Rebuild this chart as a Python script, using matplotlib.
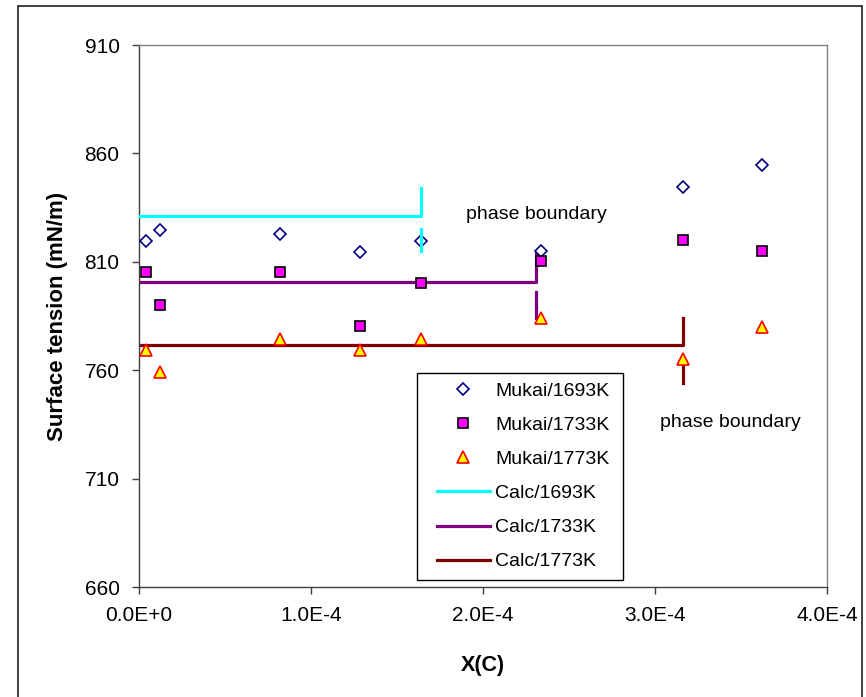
import matplotlib
matplotlib.use('Agg')
import numpy as np
import matplotlib.pyplot as plt
from matplotlib.patches import Rectangle
from matplotlib.ticker import FuncFormatter

plt.rcParams['font.family'] = ['Liberation Sans', 'DejaVu Sans']

# Measured data (Mukai)
x_mukai = [0.04e-4, 0.12e-4, 0.82e-4, 1.285e-4, 1.64e-4, 2.34e-4, 3.16e-4, 3.62e-4]
st_1693 = [819.6, 824.7, 823.0, 814.5, 819.6, 815.0, 844.4, 854.6]
st_1733 = [805.3, 790.0, 805.3, 780.5, 800.2, 810.5, 819.9, 814.8]
st_1773 = [769.3, 759.2, 774.4, 769.3, 774.4, 784.0, 765.0, 779.8]

# Calculated curves (nan = break before the phase boundary marker segment)
x_calc_1693 = [0.0, 1.64e-4, 1.64e-4, np.nan, 1.64e-4, 1.64e-4]
y_calc_1693 = [831.0, 831.0, 844.0, np.nan, 825.0, 815.0]
x_calc_1733 = [0.0, 2.306e-4, 2.306e-4, np.nan, 2.306e-4, 2.306e-4]
y_calc_1733 = [800.5, 800.5, 815.0, np.nan, 796.0, 784.0]
x_calc_1773 = [0.0, 3.165e-4, 3.165e-4, np.nan, 3.165e-4, 3.165e-4]
y_calc_1773 = [771.5, 771.5, 784.0, np.nan, 764.0, 754.0]

fig = plt.figure(figsize=(8.66, 6.97), dpi=100)
ax = fig.add_axes([0.1605, 0.1578, 0.7945, 0.7776])

ax.plot(x_mukai, st_1693, linestyle='none', marker='D', markersize=6,
        markerfacecolor='white', markeredgecolor='#000080', markeredgewidth=1.2,
        label='Mukai/1693K', zorder=3)
ax.plot(x_mukai, st_1733, linestyle='none', marker='s', markersize=7,
        markerfacecolor='#FF00FF', markeredgecolor='black', markeredgewidth=1.2,
        label='Mukai/1733K', zorder=3)
ax.plot(x_mukai, st_1773, linestyle='none', marker='^', markersize=9,
        markerfacecolor='#FFFF00', markeredgecolor='#FF0000', markeredgewidth=1.2,
        label='Mukai/1773K', zorder=3)
ax.plot(x_calc_1693, y_calc_1693, color='#00FFFF', lw=2.3, label='Calc/1693K', zorder=4)
ax.plot(x_calc_1733, y_calc_1733, color='#800080', lw=2.3, label='Calc/1733K', zorder=2)
ax.plot(x_calc_1773, y_calc_1773, color='#800000', lw=2.3, label='Calc/1773K', zorder=2)

ax.text(2.31e-4, 832, 'phase boundary', fontsize=14, ha='center', va='center')
ax.text(3.44e-4, 736, 'phase boundary', fontsize=14, ha='center', va='center')

ax.set_xlim(0, 4e-4)
ax.set_ylim(660, 910)
ax.set_xticks([0, 1e-4, 2e-4, 3e-4, 4e-4])
ax.set_yticks([660, 710, 760, 810, 860, 910])
ax.xaxis.set_major_formatter(FuncFormatter(
    lambda v, p: '0.0E+0' if v == 0 else '%.1fE-4' % (v / 1e-4)))
ax.tick_params(direction='out', length=5, width=1, labelsize=15, pad=9,
               color='#404040')

for s in ['left', 'bottom']:
    ax.spines[s].set_color('#404040')
    ax.spines[s].set_linewidth(1)
for s in ['top', 'right']:
    ax.spines[s].set_color('#808080')
    ax.spines[s].set_linewidth(1)

ax.set_xlabel('X(C)', fontsize=15.5, fontweight='bold')
ax.set_ylabel('Surface tension (mN/m)', fontsize=16, fontweight='bold')
ax.xaxis.set_label_coords(0.5, -0.125)
ax.yaxis.set_label_coords(-0.103, 0.5)

# Legend box drawn separately so the padding matches the original
ax.add_patch(Rectangle((0.404, 0.0129), 0.2994, 0.382, transform=ax.transAxes,
                       facecolor='white', edgecolor='black', linewidth=1,
                       zorder=5, clip_on=False))
leg = ax.legend(loc='upper left', bbox_to_anchor=(0.433, 0.378), fontsize=14,
                frameon=False, labelspacing=0.85, handlelength=2.73,
                borderpad=0, handletextpad=0.26, borderaxespad=0)
leg.set_zorder(6)

# Outer chart border
fig.add_artist(Rectangle((18 / 866, -0.02), (862 - 18) / 866, (697 - 6) / 697 + 0.02,
                         transform=fig.transFigure, fill=False,
                         edgecolor='#202020', linewidth=1.2))

fig.savefig('out.png', dpi=100)
